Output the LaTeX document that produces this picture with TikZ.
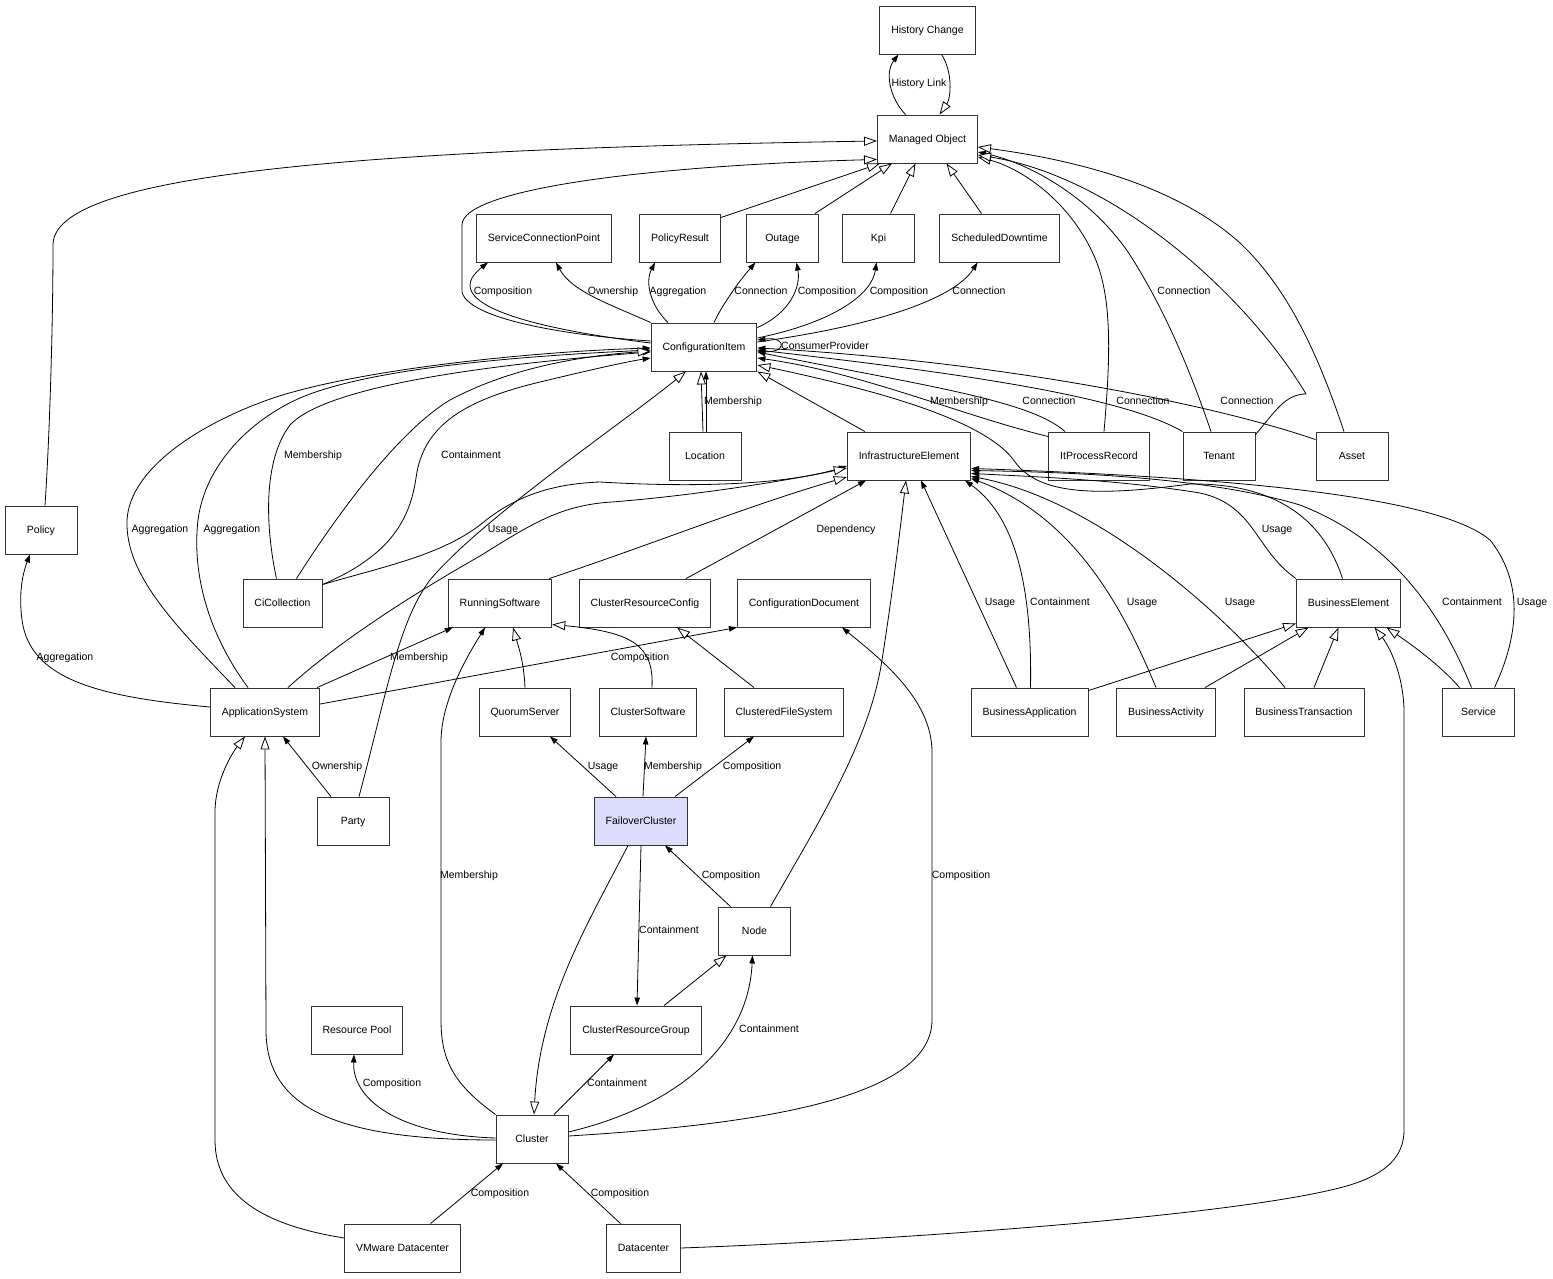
\documentclass[tikz,border=0pt]{standalone}
\usepackage{fontspec}
\setmainfont{Liberation Sans}
\usetikzlibrary{arrows.meta}
\definecolor{focusfill}{RGB}{220,220,252}

\tikzset{
  box/.style={draw=black!80,line width=0.9pt,rectangle,fill=white,minimum width=72pt,minimum height=48pt,inner xsep=11.5pt,text height=7.5pt,text depth=0pt},
  lbl/.style={inner sep=0pt,text height=7.5pt,text depth=0pt},
  assoc/.style={line width=0.8pt,-{Triangle[length=8pt,width=5.5pt]}},
  isa/.style={line width=0.8pt,-{Triangle[length=13pt,width=9pt,fill=white]}}
}

\begin{document}
\begin{tikzpicture}[x=1pt,y=-1pt,font=\fontsize{10.5}{12}\selectfont]
\useasboundingbox (0,0) rectangle (1553,1279);

% Classes
\node[box] (histchange) at (927.5,30) {History Change};
\node[box] (managed) at (927.5,139) {Managed Object};
\node[box] (scp) at (544,238) {ServiceConnectionPoint};
\node[box] (polres) at (680,238) {PolicyResult};
\node[box] (outage) at (782.5,238) {Outage};
\node[box] (kpi) at (878.5,238) {Kpi};
\node[box] (sched) at (999.5,238) {ScheduledDowntime};
\node[box] (ci) at (704,347) {ConfigurationItem};
\node[box] (location) at (705,456) {Location};
\node[box] (infra) at (909,456) {InfrastructureElement};
\node[box] (itpr) at (1099,456) {ItProcessRecord};
\node[box] (tenant) at (1219,456) {Tenant};
\node[box] (asset) at (1352,456) {Asset};
\node[box] (policy) at (41,530) {Policy};
\node[box] (cicoll) at (282.5,603) {CiCollection};
\node[box] (runsw) at (500,603) {RunningSoftware};
\node[box] (crconf) at (645,603) {ClusterResourceConfig};
\node[box] (cfgdoc) at (804,603) {ConfigurationDocument};
\node[box] (buselem) at (1348.5,603) {BusinessElement};
\node[box] (appsys) at (265,712) {ApplicationSystem};
\node[box] (quorum) at (525,712) {QuorumServer};
\node[box] (clsw) at (648,712) {ClusterSoftware};
\node[box] (clfs) at (784,712) {ClusteredFileSystem};
\node[box] (busapp) at (1029.5,712) {BusinessApplication};
\node[box] (busact) at (1166,712) {BusinessActivity};
\node[box] (bustrans) at (1304,712) {BusinessTransaction};
\node[box] (service) at (1478.5,712) {Service};
\node[box] (party) at (353,821) {Party};
\node[box,fill=focusfill] (failover) at (641,821) {FailoverCluster};
\node[box] (clnode) at (754.5,931) {Node};
\node[box] (respool) at (357,1030) {Resource Pool};
\node[box] (crgroup) at (636,1030) {ClusterResourceGroup};
\node[box] (cluster) at (532,1139) {Cluster};
\node[box] (vmwdc) at (402.5,1248) {VMware Datacenter};
\node[box] (datacenter) at (643.5,1248) {Datacenter};

% Managed Object
\draw[assoc] ([xshift=-22pt]managed.north) .. controls (889,97) and (885,72) .. ([xshift=-29pt]histchange.south);
\draw[isa] ([xshift=14pt]histchange.south) .. controls (953,72) and (951,98) .. ([xshift=12pt]managed.north);
\draw[isa] ([xshift=4pt]policy.north) .. controls (50,430) and (53,320) .. (53,245) .. controls (53,180) and (300,150) .. ([yshift=-2pt]managed.west);
\draw[isa] ([yshift=6pt]ci.west) .. controls (560,335) and (468,318) .. (462,292) -- (462,225) .. controls (462,190) and (640,166) .. ([yshift=4pt]managed.south west);
\draw[isa] ([yshift=-4pt]polres.north east) -- ([xshift=3pt]managed.south west);
\draw[isa] ([xshift=-4pt]outage.north east) -- ([xshift=15pt]managed.south west);
\draw[isa] ([xshift=12pt]kpi.north) -- ([xshift=-12pt]managed.south);
\draw[isa] ([xshift=-18pt]sched.north) -- ([xshift=19pt]managed.south);
\draw[isa] ([xshift=5pt]itpr.north) .. controls (1110,362) and (1113,300) .. (1095,258) .. controls (1070,200) and (1020,168) .. ([yshift=-18pt]managed.east);
\draw[assoc] ([xshift=-8pt]tenant.north) .. controls (1190,370) and (1165,310) .. (1130,255) .. controls (1092,198) and (1030,163) .. ([yshift=-13pt]managed.east);
\draw[isa] ([yshift=-3pt]tenant.north east) .. controls (1275,412) and (1285,394) .. (1306,394) .. controls (1250,300) and (1120,178) .. ([yshift=-16pt]managed.east);
\draw[isa] ([xshift=-8pt]asset.north) .. controls (1320,360) and (1290,290) .. (1240,243) .. controls (1170,180) and (1060,158) .. ([yshift=-8pt]managed.east);

% ConfigurationItem outgoing
\draw[assoc] ([yshift=4pt]ci.west) .. controls (560,332) and (430,308) .. ([xshift=-56pt]scp.south);
\draw[assoc] (ci.north west) .. controls (612,305) and (572,292) .. ([xshift=12pt]scp.south);
\draw[assoc] ([xshift=-36pt]ci.north) .. controls (650,305) and (645,282) .. ([xshift=-25pt]polres.south);
\draw[assoc] ([xshift=10pt]ci.north) .. controls (722,305) and (740,280) .. ([xshift=-27pt]outage.south);
\draw[assoc] ([yshift=-5pt]ci.north east) .. controls (790,313) and (801,287) .. ([xshift=14pt]outage.south);
\draw[assoc] ([yshift=9pt]ci.east) .. controls (835,322) and (872,294) .. ([xshift=-2pt]kpi.south);
\draw[assoc] ([yshift=5pt]ci.east) .. controls (880,325) and (955,298) .. ([xshift=-22pt]sched.south);
\draw[assoc] ([yshift=-4pt]ci.east) .. controls (788,356) and (788,336) .. ([yshift=7pt]ci.east);

% ConfigurationItem incoming
\draw[assoc] ([yshift=-5pt]itpr.north west) .. controls (960,415) and (860,372) .. ([yshift=-11pt]ci.east);
\draw[assoc] ([xshift=-34pt]itpr.north) .. controls (1030,400) and (920,385) .. ([yshift=-5pt]ci.east);
\draw[assoc] (tenant.north west) .. controls (1120,395) and (950,372) .. ([yshift=-3pt]ci.east);
\draw[assoc] ([yshift=-8pt]asset.north west) .. controls (1200,400) and (980,360) .. ([yshift=-1pt]ci.east);
\draw[isa] ([xshift=-6pt]buselem.north) .. controls (1322,515) and (1270,483) .. (1190,484) .. controls (1100,496) and (1040,496) .. (1015,462) .. controls (990,425) and (900,395) .. ([yshift=-18pt]ci.east);
\draw[isa] ([xshift=-44pt]infra.north) -- (ci.south east);
\draw[isa] ([xshift=-2pt]location.north) -- ([xshift=-3pt]ci.south);
\draw[assoc] ([xshift=1pt]location.north) -- ([xshift=2pt]ci.south);
\draw[isa] ([xshift=6pt]party.north) .. controls (385,700) and (398,622) .. (430,580) .. controls (480,520) and (620,425) .. ([xshift=-18pt]ci.south);
\draw[assoc] ([xshift=-30pt]appsys.north) .. controls (175,625) and (125,575) .. (127,520) .. controls (130,468) and (200,425) .. (262,402) .. controls (340,372) and (520,352) .. ([yshift=-1pt]ci.west);
\draw[assoc] ([xshift=-17pt]appsys.north) .. controls (207,632) and (192,572) .. (198,520) .. controls (205,465) and (250,420) .. (300,398) .. controls (370,368) and (520,356) .. ([yshift=-3pt]ci.west);
\draw[assoc] ([xshift=-6pt]cicoll.north) .. controls (266,530) and (262,462) .. (290,425) .. controls (330,382) and (520,362) .. ([yshift=-5pt]ci.west);
\draw[isa] ([xshift=14pt]cicoll.north) .. controls (340,510) and (400,430) .. (450,400) .. controls (510,368) and (580,356) .. ([yshift=-4pt]ci.west);
\draw[assoc] ([yshift=-6pt]cicoll.north east) .. controls (392,555) and (410,518) .. (416,478) .. controls (423,425) and (465,400) .. (540,382) .. controls (590,370) and (625,362) .. ([yshift=-11pt]ci.west);

% InfrastructureElement
\draw[assoc] ([yshift=-6pt]cicoll.north east) .. controls (390,565) and (440,555) .. (480,525) .. controls (510,500) and (545,484) .. (600,482) .. controls (700,488) and (790,484) .. ([yshift=-10pt]infra.west);
\draw[isa] ([xshift=23pt]appsys.north) .. controls (340,640) and (420,590) .. (480,556) .. controls (530,525) and (560,505) .. (612,502) .. controls (700,495) and (790,480) .. ([yshift=-12pt]infra.west);
\draw[isa] ([xshift=-3pt]runsw.north east) .. controls (650,545) and (750,505) .. ([yshift=-21pt]infra.west);
\draw[assoc] ([xshift=41pt]crconf.north) -- ([xshift=-43pt]infra.south);
\draw[isa] ([xshift=16pt]clnode.north) .. controls (820,820) and (870,740) .. (882,660) .. controls (893,590) and (900,530) .. ([xshift=-3pt]infra.south);
\draw[assoc] ([xshift=-13pt]busapp.north) -- ([xshift=12pt]infra.south);
\draw[assoc] ([xshift=1pt]busapp.north) .. controls (1032,600) and (1020,520) .. ([xshift=56pt]infra.south);
\draw[assoc] ([xshift=-10pt]busact.north) .. controls (1120,600) and (1070,515) .. ([yshift=2pt]infra.south east);
\draw[assoc] ([xshift=-19pt]bustrans.north) .. controls (1230,620) and (1100,500) .. ([yshift=4pt]infra.south east);
\draw[assoc] (buselem.north west) .. controls (1255,550) and (1255,505) .. (1200,493) .. controls (1120,480) and (1040,477) .. ([yshift=7pt]infra.south east);
\draw[assoc] ([xshift=-7pt]service.north) .. controls (1440,610) and (1390,540) .. (1300,505) .. controls (1200,475) and (1050,472) .. ([yshift=10pt]infra.south east);
\draw[assoc] ([xshift=16pt]service.north) .. controls (1512,650) and (1530,590) .. (1490,540) .. controls (1440,498) and (1250,478) .. ([yshift=12pt]infra.south east);

% BusinessElement
\draw[isa] ([yshift=-3pt]busapp.north east) -- ([yshift=4pt]buselem.south west);
\draw[isa] ([xshift=39pt]busact.north) -- ([xshift=-40pt]buselem.south);
\draw[isa] ([xshift=10pt]bustrans.north) -- ([xshift=-10pt]buselem.south);
\draw[isa] ([xshift=-19pt]service.north) .. controls (1440,665) and (1412,645) .. ([xshift=38pt]buselem.south);
\draw[isa] (datacenter.east) .. controls (900,1240) and (1250,1215) .. (1350,1185) .. controls (1392,1172) and (1404,1152) .. (1404,1130) -- (1404,712) .. controls (1404,680) and (1392,650) .. ([xshift=26pt]buselem.south);

% Software and cluster
\draw[assoc] ([xshift=-3pt]appsys.north east) -- ([xshift=5pt]runsw.south west);
\draw[assoc] (cluster.north west) .. controls (455,1085) and (441,1062) .. (441,1020) -- (441,742) .. controls (441,700) and (468,655) .. ([xshift=-15pt]runsw.south);
\draw[isa] (quorum.north) .. controls (524,662) and (518,645) .. ([xshift=13pt]runsw.south);
\draw[isa] ([xshift=4pt]clsw.north) .. controls (654,645) and (632,632) .. ([yshift=3pt]runsw.south east);
\draw[assoc] ([yshift=8pt]appsys.east) -- (cfgdoc.south west);
\draw[isa] ([xshift=-30pt]clfs.north) -- ([xshift=32pt]crconf.south);
\draw[assoc] ([xshift=-25pt]failover.north) -- ([xshift=25pt]quorum.south);
\draw[assoc] ([xshift=2pt]failover.north) -- ([xshift=-2pt]clsw.south);
\draw[assoc] ([xshift=34pt]failover.north) -- ([xshift=-30pt]clfs.south);
\draw[isa] ([xshift=-13pt]failover.south) .. controls (590,920) and (540,1000) .. ([xshift=2pt]cluster.north);
\draw[assoc] (failover.south) -- ([xshift=1pt]crgroup.north);
\draw[assoc] ([xshift=-24pt]clnode.north) -- ([xshift=24pt]failover.south);
\draw[isa] ([xshift=28pt]crgroup.north) -- ([xshift=-28pt]clnode.south);
\draw[assoc] ([yshift=7pt]cluster.east) .. controls (670,1108) and (748,1050) .. ([xshift=-2pt]clnode.south);
\draw[assoc] ([xshift=22pt]cluster.north) -- ([xshift=-22pt]crgroup.south);
\draw[assoc] ([yshift=3pt]cluster.east) .. controls (750,1125) and (932,1100) .. (932,1020) -- (932,752) .. controls (932,700) and (882,660) .. ([xshift=38pt]cfgdoc.south);
\draw[assoc] ([yshift=1pt]cluster.west) .. controls (400,1135) and (352,1100) .. ([xshift=-3pt]respool.south);
\draw[isa] ([yshift=-1pt]cluster.west) .. controls (330,1140) and (266,1105) .. (266,1030) -- (appsys.south);
\draw[isa] ([yshift=10pt]vmwdc.west) .. controls (262,1225) and (215,1195) .. (215,1140) -- (215,812) .. controls (215,780) and (233,752) .. ([xshift=-20pt]appsys.south);
\draw[assoc] ([xshift=28pt]vmwdc.north) -- ([xshift=-29pt]cluster.south);
\draw[assoc] ([xshift=-23pt]datacenter.north) -- ([xshift=24pt]cluster.south);
\draw[assoc] ([xshift=-22pt]party.north) -- ([xshift=18pt]appsys.south);
\draw[assoc] ([yshift=5pt]appsys.west) .. controls (100,697) and (30,680) .. (22,620) .. controls (18,590) and (24,570) .. ([xshift=-11pt]policy.south);

% Edge labels
\begin{scope}[nodes={lbl}]
\node (lbHistLink) at (919,83) {History Link};
\node (lbScpComp) at (503,291) {Composition};
\node (lbScpOwn) at (613,291) {Ownership};
\node (lbPrAggr) at (678,291) {Aggregation};
\node (lbOutConn) at (761,291) {Connection};
\node (lbOutComp) at (827,291) {Composition};
\node (lbKpiComp) at (899,291) {Composition};
\node (lbSchedConn) at (979,291) {Connection};
\node (lbTenMoConn) at (1184,291) {Connection};
\node (lbConsProv) at (825,346) {ConsumerProvider};
\node (lbLocMemb) at (733,401) {Membership};
\node (lbIprMemb) at (959,401) {Membership};
\node (lbIprConn) at (1049,401) {Connection};
\node (lbTenConn) at (1143,401) {Connection};
\node (lbAssetConn) at (1247,401) {Connection};
\node (lbCicMemb) at (313,455) {Membership};
\node (lbCicCont) at (471,455) {Containment};
\node (lbAsAggrA) at (160,529) {Aggregation};
\node (lbAsAggrB) at (232,529) {Aggregation};
\node (lbCicUsage) at (503,529) {Usage};
\node (lbDepend) at (846,529) {Dependency};
\node (lbBeUsage) at (1277,529) {Usage};
\node (lbBaUsage) at (1000,602) {Usage};
\node (lbBaCont) at (1060,602) {Containment};
\node (lbBactUsage) at (1142,602) {Usage};
\node (lbBtUsage) at (1240,602) {Usage};
\node (lbSvcCont) at (1472,602) {Containment};
\node (lbSvcUsage) at (1532,602) {Usage};
\node (lbPolAggr) at (65,657) {Aggregation};
\node (lbRsMemb) at (419,657) {Membership};
\node (lbCdComp) at (640,657) {Composition};
\node (lbPartyOwn) at (337,766) {Ownership};
\node (lbQsUsage) at (603,766) {Usage};
\node (lbCsMemb) at (673,766) {Membership};
\node (lbCfsComp) at (752,766) {Composition};
\node (lbClRsMemb) at (469,875) {Membership};
\node (lbNodeComp) at (731,875) {Composition};
\node (lbClCdComp) at (961,875) {Composition};
\node (lbCrgCont) at (669,930) {Containment};
\node (lbNodeCont) at (769,1029) {Containment};
\node (lbRpComp) at (392,1083) {Composition};
\node (lbClCrgCont) at (617,1083) {Containment};
\node (lbVmwComp) at (500,1193) {Composition};
\node (lbDcComp) at (620,1193) {Composition};
\end{scope}

\end{tikzpicture}
\end{document}
